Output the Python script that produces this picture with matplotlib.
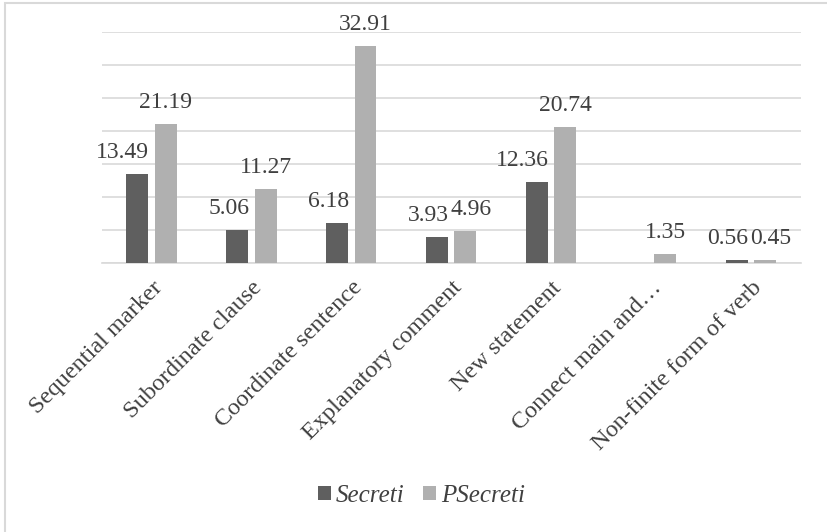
import matplotlib.pyplot as plt
import numpy as np
from matplotlib.patches import Rectangle

categories = ['Sequential marker', 'Subordinate clause', 'Coordinate sentence',
              'Explanatory comment', 'New statement', 'Connect main and\u2026',
              'Non-finite form of verb']
secreti = [13.49, 5.06, 6.18, 3.93, 12.36, 0.0, 0.56]
psecreti = [21.19, 11.27, 32.91, 4.96, 20.74, 1.35, 0.45]
series_names = ['Secreti', 'PSecreti']
colors = ['#5f5f5f', '#b0b0b0']

plt.rcParams['font.family'] = ['Liberation Serif', 'DejaVu Serif']
text_color = '#404040'
grid_color = '#d9d9d9'

fig = plt.figure(figsize=(8.28, 5.32), dpi=100)
ax = fig.add_axes([0.1228, 0.505, 0.8442, 0.434])

x = np.arange(len(categories))
width = 0.22
offset = 0.142

bars_dark = ax.bar(x - offset, secreti, width, color=colors[0], label=series_names[0], zorder=3)
bars_light = ax.bar(x + offset, psecreti, width, color=colors[1], label=series_names[1], zorder=3)

# dark labels sit flush with the bar's right edge, light ones are centred
dark_labels = []
for bar, val in zip(bars_dark, secreti):
    if val == 0:
        dark_labels.append(None)
        continue
    t = ax.annotate(f'{val:.2f}', (bar.get_x() + bar.get_width() + 0.01, val),
                    xytext=(0, 11.5), textcoords='offset points',
                    ha='right', va='baseline', fontsize=17, color=text_color)
    dark_labels.append(t)

light_labels = []
for bar, val in zip(bars_light, psecreti):
    t = ax.annotate(f'{val:.2f}', (bar.get_x() + bar.get_width() / 2, val),
                    xytext=(0, 11.5), textcoords='offset points',
                    ha='center', va='baseline', fontsize=17, color=text_color)
    light_labels.append(t)

ax.set_xlim(-0.5, len(categories) - 0.5)
ax.set_ylim(0, 35)
ax.set_yticks(np.arange(0, 36, 5))
ax.yaxis.grid(True, color=grid_color, linewidth=1.2, zorder=0)
ax.tick_params(axis='y', left=False, labelleft=False)
for side in ['top', 'right', 'left']:
    ax.spines[side].set_visible(False)
ax.spines['bottom'].set_color(grid_color)
ax.spines['bottom'].set_linewidth(1.2)

ax.set_xticks(x)
ax.set_xticklabels(categories, rotation=45, ha='right', va='top',
                   rotation_mode='anchor', fontsize=17.5, color=text_color)
ax.tick_params(axis='x', length=0, pad=10)

# push a light label to the right when it runs into its neighbour
fig.canvas.draw()
renderer = fig.canvas.get_renderer()
inv = ax.transData.inverted()
for dl, ll in zip(dark_labels, light_labels):
    if dl is None:
        continue
    bd = dl.get_window_extent(renderer)
    bl = ll.get_window_extent(renderer)
    if bd.overlaps(bl):
        x_data = inv.transform((bd.x1 + 2, 0))[0]
        ll.xy = (x_data, ll.xy[1])
        ll.set_ha('left')

leg = fig.legend(loc='center', bbox_to_anchor=(0.509, 0.068), ncol=2, frameon=False,
                 prop={'style': 'italic', 'size': 18}, handlelength=0.5,
                 handleheight=0.5, handletextpad=0.2, columnspacing=0.75)
for t in leg.get_texts():
    t.set_color(text_color)

# light outer frame
fig.patches.append(Rectangle((5 / 828, -0.1), 1.2, 1.094,
                             transform=fig.transFigure, fill=False,
                             edgecolor=grid_color, linewidth=1.5))

fig.savefig('out.png', dpi=100)
